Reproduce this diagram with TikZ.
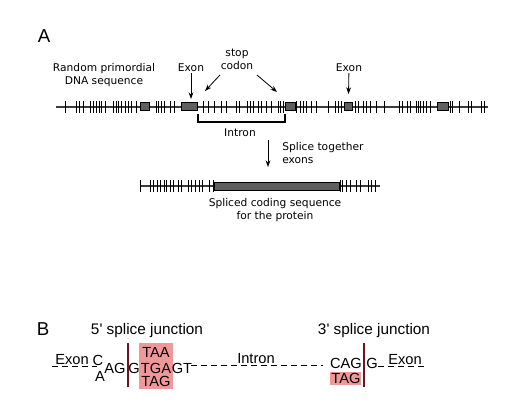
\documentclass[tikz,border=0pt]{standalone}
\usepackage{fontspec}
\setmainfont{Liberation Sans}
\newfontfamily\dvfont{DejaVu Sans}
\usetikzlibrary{arrows.meta}

\definecolor{exongray}{RGB}{95,95,95}
\definecolor{stoppink}{RGB}{240,152,152}
\definecolor{junctred}{RGB}{110,20,32}
\definecolor{dnagray}{RGB}{60,60,60}

\tikzset{
  dnaline/.style={line width=0.8pt, color=dnagray},
  tickmark/.style={line width=0.75pt},
  exonbox/.style={draw=black, fill=exongray, line width=0.7pt},
  arr/.style={-{Stealth[length=5pt,width=3.6pt]}, line width=0.6pt},
  labA/.style={font=\dvfont\fontsize{8}{9.75}\selectfont, align=center, inner sep=0.75pt},
  panel/.style={font=\fontsize{14}{16}\selectfont, inner sep=0pt},
  junct/.style={font=\fontsize{11.5}{13}\selectfont, inner sep=0pt},
  seq/.style={font=\fontsize{11}{12}\selectfont, inner sep=0pt},
  seqdash/.style={dash pattern=on 4.5pt off 3pt, line width=0.75pt},
  junctline/.style={color=junctred, line width=1.2pt},
}

\begin{document}
\begin{tikzpicture}[x=0.75pt,y=0.75pt,yscale=-1,xscale=1]
\useasboundingbox (0,0) rectangle (514,401);

%Shape: primordial DNA line
\draw [dnaline] (56,107) -- (488,107);
\foreach \x in {65.7,76.7,79.3,83.3,90.7,93.3,96.7,99.3,101.7,105,113.3,116,118.3,121.7,125,128.3,131.7,136,
  156,158.5,161.7,164,170,174,203.3,208.3,214.3,221.7,226.7,236.7,239,247.3,250,253.3,258.3,261.7,266,
  271.7,278.3,280.7,283.3,296.7,300,303.3,306.7,311.7,316.7,328.3,335,338.3,341.7,355,358.3,363.3,366.7,370,376.7,
  384,399.3,402.7,407.3,410,416,418.3,420.7,423.3,426.7,430,450,452.7,459.3,468.3,471.7,481.7,484}
  \draw [tickmark] (\x,101) -- (\x,113);
%Shape: exons
\draw [exonbox] (140.7,102.5) rectangle (149.3,110.5);
\draw [exonbox] (181.7,102.5) rectangle (197.7,110.5);
\draw [exonbox] (285.7,102.5) rectangle (295,110.5);
\draw [exonbox] (344,102.5) rectangle (352.3,110.5);
\draw [exonbox] (437.3,102.5) rectangle (448.3,110.5);

%Shape: intron bracket
\draw [line width=1.2pt] (198,114) -- (198,122) -- (285,122) -- (285,114);

%Shape: spliced line
\draw [dnaline] (140,186) -- (380,186);
\foreach \x in {140.7,150,153.3,157.3,160,164,166.7,170,173.3,178.3,181.7,188.3,191.7,195,199.3,202.7,209.3,213.3,
  340,342.7,346.7,350,356.7,360,368.3,371.7,375}
  \draw [tickmark] (\x,180) -- (\x,192);
\draw [exonbox] (214.3,182) rectangle (339,190);

% Text Node
\node [panel] (labA) at (44,36) {A};
% Text Node
\node [labA] (primord) at (104,75.5) {Random primordial\\DNA sequence};
% Text Node
\node [labA] (exonL) at (191,68) {Exon};
% Text Node
\node [labA] (stopcod) at (237,59) {stop\\codon};
% Text Node
\node [labA] (exonR) at (349,68) {Exon};
% Text Node
\node [labA] (intron) at (240,133) {Intron};
% Text Node
\node [labA, align=left, anchor=west] (splice) at (281,153) {Splice together\\exons};
% Text Node
\node [labA] (spliced) at (275,210) {Spliced coding sequence\\for the protein};

\coordinate (exonLtip) at (191,99);
\coordinate (exonRtip) at (348.5,94);
\coordinate (stopLbeg) at (220,75);
\coordinate (stopLtip) at (205,91);
\coordinate (stopRbeg) at (257,75);
\coordinate (stopRtip) at (277,92);
\coordinate (splicebeg) at (268,140);
\coordinate (splicetip) at (268,167);
\draw [arr] (exonL) -- (exonLtip);
\draw [arr] (exonR) -- (exonRtip);
\draw [arr] (stopLbeg) -- (stopLtip);
\draw [arr] (stopRbeg) -- (stopRtip);
\draw [arr] (splicebeg) -- (splicetip);

%Shape: stop codon highlights
\fill [stoppink] (139,343) rectangle (173,389);
\fill [stoppink] (330,372) rectangle (361,385);
%Shape: junction lines
\draw [junctline] (128,343) -- (128,387);
\draw [junctline] (364,343) -- (364,387);
%Shape: dashed sequence
\draw [seqdash] (52,366) -- (97,366);
\draw [seqdash] (191,365) -- (323,365);
\draw [seqdash] (378,366) -- (424,366);

% Text Node
\node [panel] (labB) at (43,329) {B};
% Text Node
\node [junct] (junct5) at (147,331) {5\textquotesingle{} splice junction};
% Text Node
\node [junct] (junct3) at (374,331) {3\textquotesingle{} splice junction};
% Text Node
\node [seq] (exon5) at (72,360) {Exon};
\node [seq] (c5) at (98,360) {C};
\node [seq] (a5) at (100,376) {A};
\node [seq] (ag5) at (115,368) {AG};
\node [seq] (g5) at (134,368) {G};
\node [seq] (taa) at (156,352) {TAA};
\node [seq] (tga) at (156,368) {TGA};
\node [seq] (tag5) at (156,381) {TAG};
\node [seq] (gt5) at (182,368) {GT};
\node [seq] (intronB) at (256,359) {Intron};
\node [seq] (cag3) at (346,363) {CAG};
\node [seq] (tag3) at (346,378) {TAG};
\node [seq] (g3) at (372,363) {G};
\node [seq] (exon3) at (405,360) {Exon};

\end{tikzpicture}
\end{document}
